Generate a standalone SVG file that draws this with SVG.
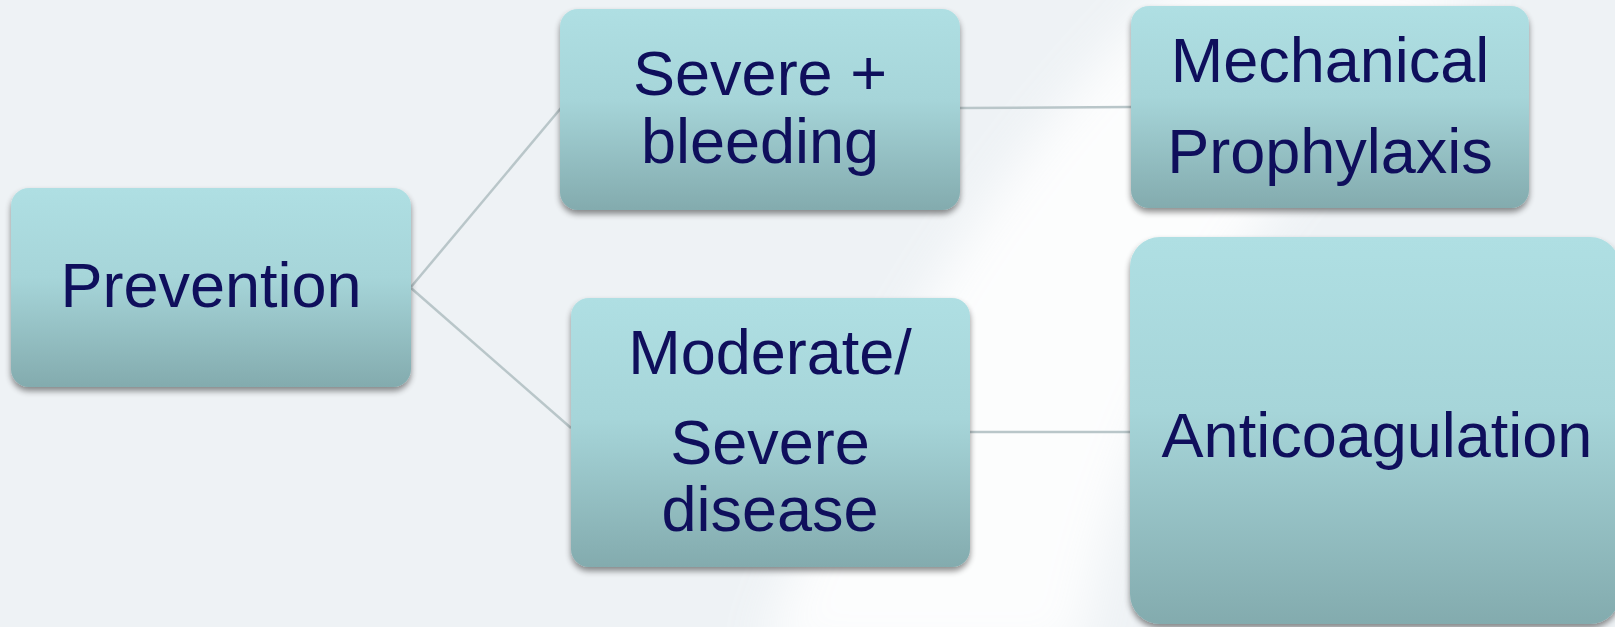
<svg xmlns="http://www.w3.org/2000/svg" width="1615" height="627" viewBox="0 0 1615 627">
<defs>
<linearGradient id="bg" x1="0" y1="0" x2="1" y2="0">
<stop offset="0" stop-color="#eef2f5"/>
<stop offset="1" stop-color="#eef2f5"/>
</linearGradient>
<linearGradient id="box" x1="0" y1="0" x2="0" y2="1">
<stop offset="0" stop-color="#afdfe3"/>
<stop offset="0.45" stop-color="#a6d5d9"/>
<stop offset="1" stop-color="#83abae"/>
</linearGradient>
<filter id="sh" x="-10%" y="-10%" width="120%" height="130%">
<feGaussianBlur in="SourceAlpha" stdDeviation="3"/>
<feOffset dx="0" dy="4" result="b"/>
<feComponentTransfer><feFuncA type="linear" slope="0.45"/></feComponentTransfer>
<feMerge><feMergeNode/><feMergeNode in="SourceGraphic"/></feMerge>
</filter>
<filter id="blur" x="-20%" y="-20%" width="140%" height="140%">
<feGaussianBlur stdDeviation="25"/>
</filter>
<style>
.node rect{fill:url(#box);filter:url(#sh)}
.node text{font-family:"Liberation Sans",Arial,sans-serif;font-size:63px;fill:#0f0f5c;text-anchor:middle}
.conn line{stroke:#b9c6c9;stroke-width:2.5}
</style>
</defs>
<rect width="1615" height="627" fill="#eef2f5"/>
<path d="M1180,-20 L1500,-20 Q1150,250 1080,660 L760,660 Q900,250 1180,-20 Z" fill="#ffffff" opacity="0.85" filter="url(#blur)"/>
<g class="conn">
<line x1="411" y1="287" x2="561" y2="108"/>
<line x1="411" y1="288" x2="571" y2="428"/>
<line x1="960" y1="108" x2="1131" y2="107"/>
<line x1="970" y1="432" x2="1130" y2="432"/>
</g>
<g id="prevention" class="node">
<rect x="11" y="188" width="400" height="199" rx="18"/>
<text x="211" y="307">Prevention</text>
</g>
<g id="severe-bleeding" class="node">
<rect x="560" y="9" width="400" height="201" rx="18"/>
<text x="760" y="95">Severe +</text>
<text x="760" y="163">bleeding</text>
</g>
<g id="mechanical" class="node">
<rect x="1131" y="6" width="398" height="202" rx="18"/>
<text x="1330" y="82">Mechanical</text>
<text x="1330" y="173">Prophylaxis</text>
</g>
<g id="moderate-severe" class="node">
<rect x="571" y="298" width="399" height="269" rx="18"/>
<text x="770" y="374">Moderate/</text>
<text x="770" y="464">Severe</text>
<text x="770" y="531">disease</text>
</g>
<g id="anticoagulation" class="node">
<rect x="1130" y="237" width="490" height="387" rx="30"/>
<text x="1377" y="457">Anticoagulation</text>
</g>
</svg>
